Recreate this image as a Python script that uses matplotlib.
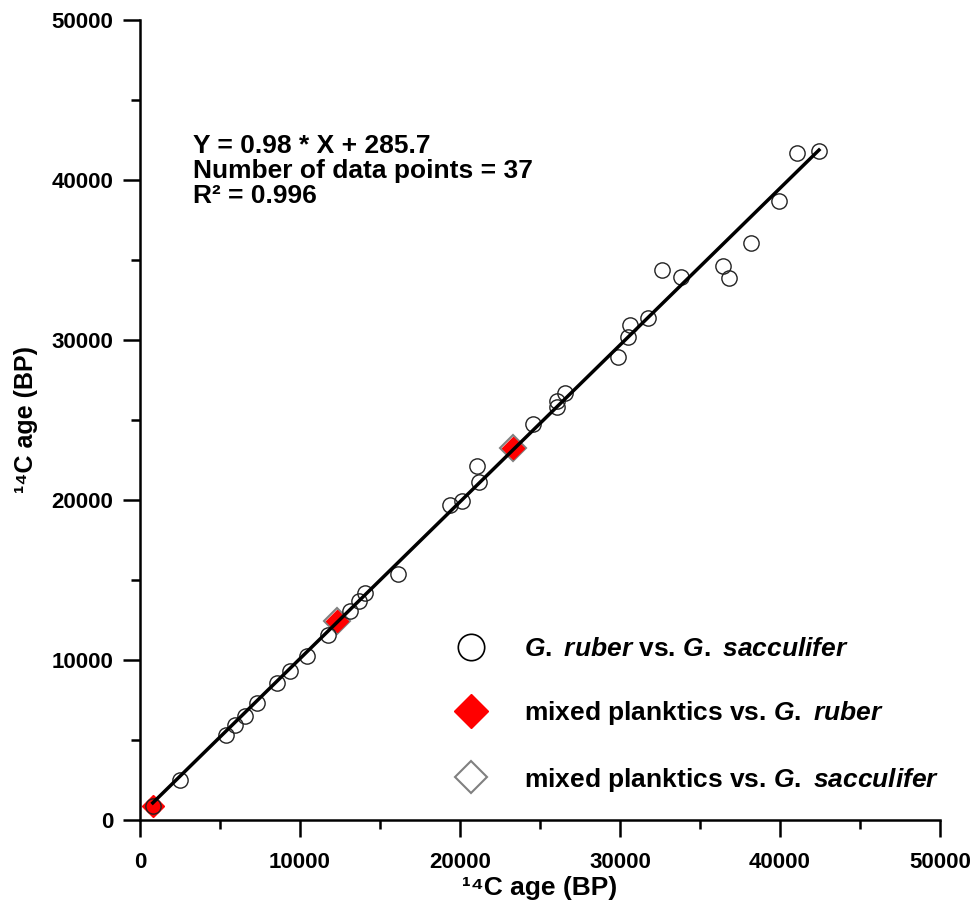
import matplotlib.pyplot as plt
from matplotlib.lines import Line2D
import numpy as np

plt.rcParams['font.family'] = ['Liberation Sans', 'DejaVu Sans']
plt.rcParams['font.weight'] = 'bold'
plt.rcParams['mathtext.fontset'] = 'custom'
plt.rcParams['mathtext.rm'] = 'Liberation Sans:bold'
plt.rcParams['mathtext.it'] = 'Liberation Sans:italic:bold'

# G. ruber vs. G. sacculifer
ruber_x = [2500, 5356, 5937, 6562, 7294, 8544, 9375, 10419, 11731, 13125, 13706,
           14062, 16106, 19375, 20106, 21044, 21206, 24581, 26044, 26044, 26562,
           29856, 30481, 30625, 31750, 32606, 33794, 36419, 36831, 38169, 39937,
           41044, 42437, 800]
ruber_y = [2500, 5312, 5937, 6519, 7331, 8544, 9312, 10269, 11562, 13062, 13687,
           14206, 15356, 19687, 19956, 22125, 21144, 24731, 26206, 25812, 26706,
           28919, 30206, 30937, 31394, 34375, 33919, 34625, 33894, 36044, 38706,
           41706, 41831, 850]

# mixed planktics vs. G. ruber
mixed_ruber_x = [800, 12300, 23330]
mixed_ruber_y = [850, 12440, 23230]

# mixed planktics vs. G. sacculifer
mixed_sacc_x = [12300, 23330]
mixed_sacc_y = [12440, 23230]

# regression
slope = 0.98
intercept = 285.7
fit_x = np.array([800, 42437])

fs = 19
tick_fs = 16

fig = plt.figure(figsize=(9.76, 9.02), dpi=100)
ax = fig.add_axes([140 / 976, 82 / 902, 800 / 976, 800 / 902])

ax.plot(mixed_sacc_x, mixed_sacc_y, 'D', ms=13, mfc='white', mec='#808080', mew=1.5, zorder=2)
ax.plot(mixed_ruber_x, mixed_ruber_y, 'D', ms=11.5, mfc='red', mec='red', mew=1, zorder=3)
ax.plot(ruber_x, ruber_y, 'o', ms=11, mfc='none', mec='#222222', mew=1, zorder=4)
ax.plot(fit_x, slope * fit_x + intercept, color='black', lw=2.5, zorder=5)

ax.set_xlim(0, 50000)
ax.set_ylim(0, 50000)
ax.set_xticks(np.arange(0, 50001, 10000))
ax.set_yticks(np.arange(0, 50001, 10000))
ax.set_xticks(np.arange(5000, 50000, 10000), minor=True)
ax.set_yticks(np.arange(5000, 50000, 10000), minor=True)
ax.tick_params(which='major', direction='out', length=12, width=1.8, labelsize=tick_fs, pad=7)
ax.tick_params(which='minor', direction='out', length=6.5, width=1.8)
ax.tick_params(axis='x', which='major', pad=11)
for lab in ax.get_xticklabels() + ax.get_yticklabels():
    lab.set_fontweight('bold')
for s in ['top', 'right']:
    ax.spines[s].set_visible(False)
for s in ['left', 'bottom']:
    ax.spines[s].set_linewidth(1.8)

ax.set_xlabel('¹⁴C age (BP)', fontsize=fs, fontweight='bold', labelpad=2)
ax.set_ylabel('¹⁴C age (BP)', fontsize=18, fontweight='bold', labelpad=10)

ax.text(193 / 976, 1 - 134 / 902, 'Y = 0.98 * X + 285.7\nNumber of data points = 37\nR² = 0.996',
        transform=fig.transFigure, fontsize=fs, fontweight='bold', va='top', ha='left',
        linespacing=1.05)

handles = [
    Line2D([], [], marker='o', ls='none', ms=19, mfc='white', mec='black', mew=1.2),
    Line2D([], [], marker='D', ls='none', ms=17, mfc='red', mec='red'),
    Line2D([], [], marker='D', ls='none', ms=16.5, mfc='white', mec='#808080', mew=1.5),
]
labels = [r'$G.$ $ruber$ vs. $G.$ $sacculifer$',
          r'mixed planktics vs. $G.$ $ruber$',
          r'mixed planktics vs. $G.$ $sacculifer$']
ax.legend(handles, labels, loc='upper left', bbox_to_anchor=(445 / 976, 1 - 637 / 902),
          bbox_transform=fig.transFigure, frameon=False, fontsize=fs,
          labelspacing=1.45, handletextpad=1.0, borderpad=0, borderaxespad=0)

fig.savefig('out.png', dpi=100)
